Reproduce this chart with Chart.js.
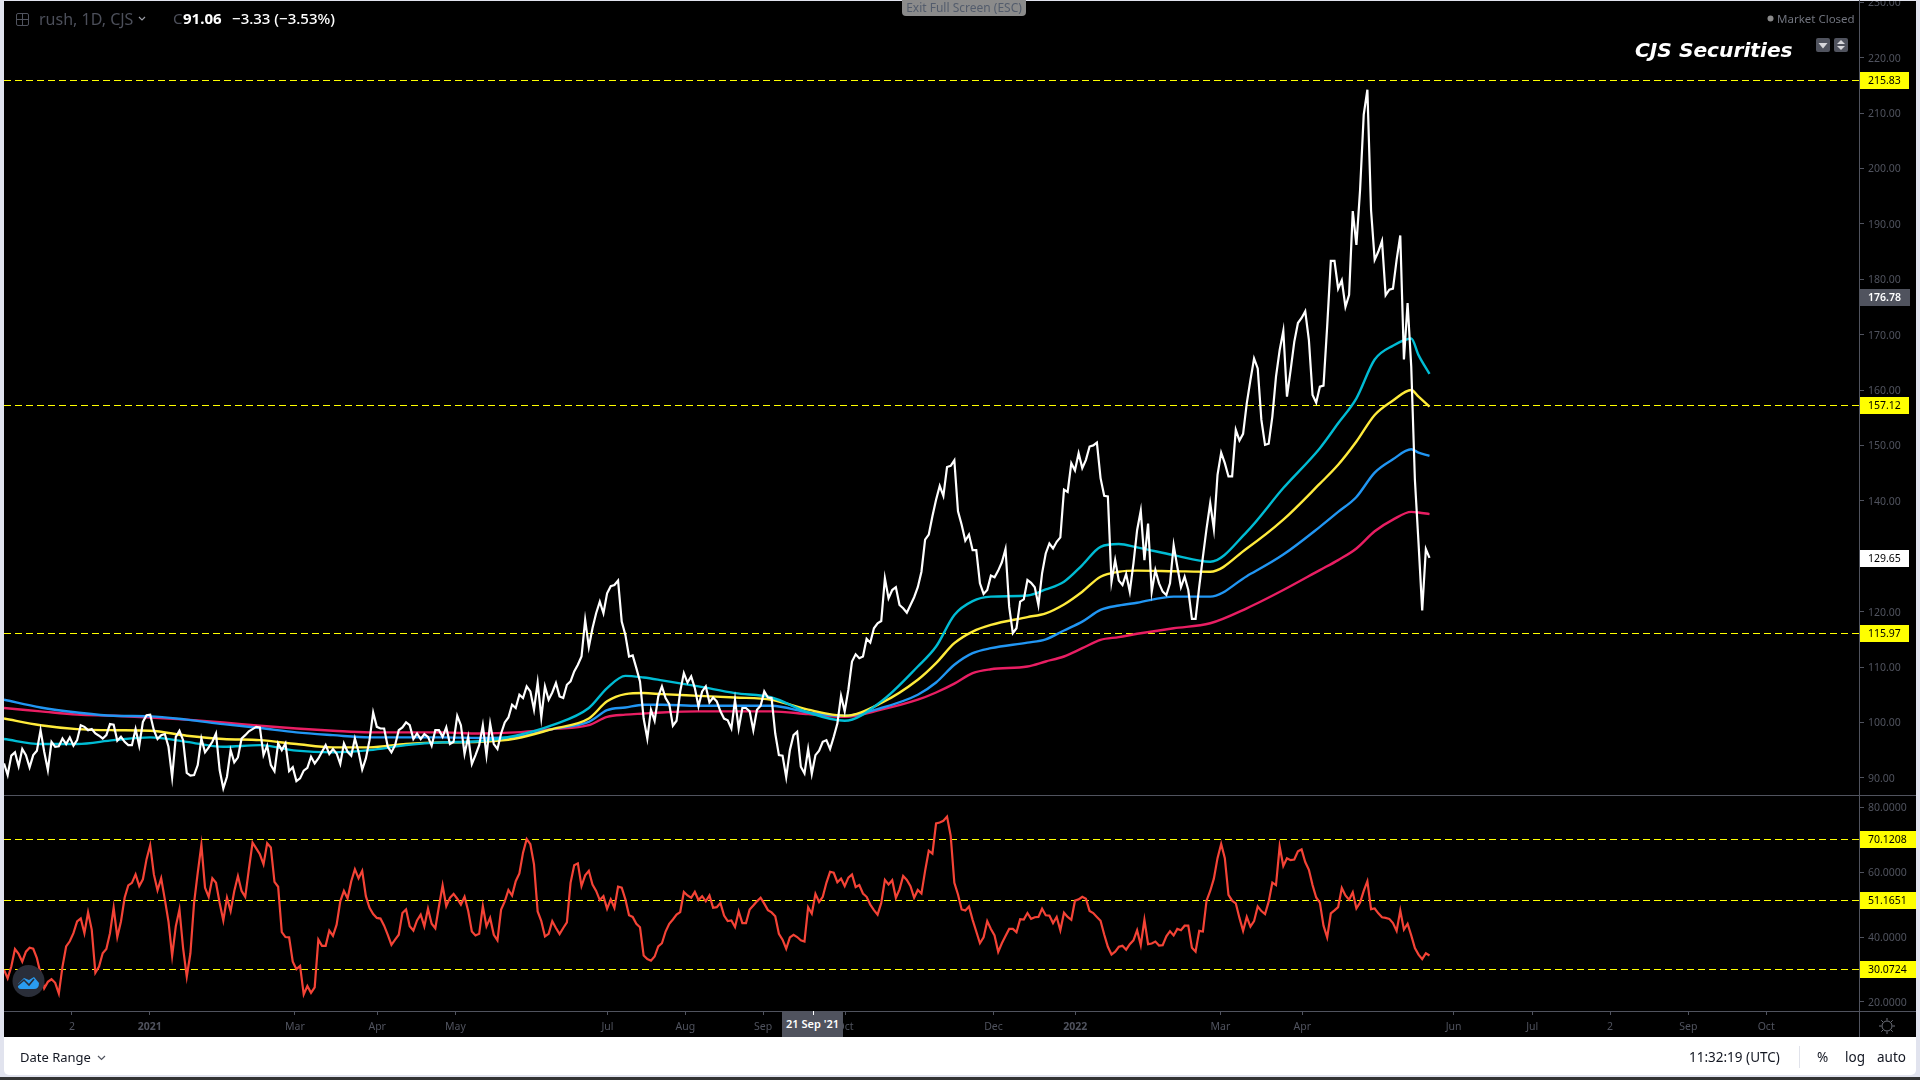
<!DOCTYPE html>
<html><head><meta charset="utf-8">
<script src="https://cdn.jsdelivr.net/npm/chart.js@4/dist/chart.umd.min.js"></script>
<style>
html,body{margin:0;padding:0;width:1920px;height:1080px;overflow:hidden;background:#e1e3ee;font-family:"Noto Sans",sans-serif}
.a{position:absolute;white-space:nowrap;line-height:1}
canvas{position:absolute;display:block}
</style></head><body>
<div class="a" style="left:4px;top:1px;width:1912px;height:1036px;background:#000"></div>
<div class="a" style="left:0;top:1077px;width:1920px;height:3px;background:#333"></div>
<div class="a" style="left:4px;top:1037px;width:1912px;height:38px;background:#fff;border-radius:0 0 5px 5px"></div>
<canvas id="price" width="1912" height="795" style="left:4px;top:0"></canvas>
<canvas id="rsi" width="1912" height="242" style="left:4px;top:795px"></canvas>
<div class="a" style="left:4px;top:0;width:1916px;height:1px;background:#e1e3ee"></div>
<div class="a" style="left:4px;top:795px;width:1912px;height:1px;background:#50535e"></div>
<div class="a" style="left:4px;top:1011px;width:1912px;height:1px;background:#50535e"></div>
<div class="a" style="left:1859px;top:0;width:1px;height:1037px;background:#50535e"></div>

<svg class="a" style="left:16px;top:13px" width="13" height="13" fill="none" stroke="#50535e"><rect x=".5" y=".5" width="12" height="12" rx="1.5"/><path d="M6.5 1V12M1 6.5H12"/></svg>
<div class="a" style="left:39px;top:11px;font-size:16px;color:#4c4f5a">rush, 1D, CJS</div>
<svg class="a" style="left:138px;top:16px" width="8" height="6" fill="none" stroke="#9a9ca5" stroke-width="1.2"><path d="M1 1L4 4L7 1"/></svg>
<div class="a" style="left:173px;top:11px;font-size:15px;color:#4c4f5a">C</div>
<div class="a" style="left:183px;top:11px;font-size:15px;font-weight:700;color:#fff">91.06</div>
<div class="a" style="left:232px;top:11px;font-size:15px;font-weight:500;color:#fff">−3.33 (−3.53%)</div>
<div class="a" style="left:902px;top:0;width:124px;height:16px;background:#8b8b8b;border-radius:0 0 4px 4px;color:#535c6c;font-size:12px;line-height:15px;text-align:center">Exit Full Screen (ESC)</div>
<svg class="a" style="left:1767px;top:15px" width="7" height="7"><circle cx="3.5" cy="3.5" r="3" fill="#8a8a8a"/></svg>
<div class="a" style="left:1777px;top:13px;font-size:11.5px;color:#70737d">Market Closed</div>
<div class="a" style="left:1635px;top:40px;font-size:20.2px;font-family:'DejaVu Sans';font-weight:700;font-style:italic;color:#fff">CJS Securities</div>
<svg class="a" style="left:1816px;top:38px" width="32" height="14"><rect width="14" height="14" rx="2" fill="#50535e"/><rect x="18" width="14" height="14" rx="2" fill="#50535e"/><path d="M2.5 5H11.5L7 10.5Z" fill="#d6d6da"/><path d="M25 2L29 6H21ZM25 12L29 8H21Z" fill="#d6d6da"/></svg>
<svg class="a" style="left:12px;top:965px" width="33" height="33"><circle cx="16.5" cy="16" r="16" fill="#2a2e39"/><path d="M6 19L12 13L17 15L22 12L27 18Q27 24 22 24H9Q5 24 6 19Z" fill="#2a9cf0"/><path d="M5 21L12 15L17 20L22 14" stroke="#2a2e39" stroke-width="1.6" fill="none"/></svg>
<div class="a" style="left:782px;top:1012px;width:61px;height:25px;background:#50535e;color:#fff;font-size:11px;font-weight:600;line-height:23px;text-align:center">21 Sep '21</div>
<div class="a" style="left:813px;top:1011px;width:1px;height:4px;background:#fff"></div>
<svg class="a" style="left:1879px;top:1018px" width="16" height="16" fill="none" stroke="#70737d"><circle cx="8" cy="8" r="5"/><path d="M8 0V2.5M8 13.5V16M0 8H2.5M13.5 8H16M2.3 2.3L4 4M12 12L13.7 13.7M13.7 2.3L12 4M4 12L2.3 13.7"/></svg>
<div class="a" style="left:20px;top:1051px;font-size:13px;color:#131722">Date Range</div>
<svg class="a" style="left:97px;top:1055px" width="9" height="6" fill="none" stroke="#50535e" stroke-width="1.2"><path d="M1 1L4.5 4.5L8 1"/></svg>
<div class="a" style="left:1689px;top:1051px;font-size:13.5px;color:#131722">11:32:19 (UTC)</div>
<div class="a" style="left:1799px;top:1046px;width:1px;height:22px;background:#e1e3eb"></div>
<div class="a" style="left:1817px;top:1051px;font-size:13.5px;color:#131722">%</div>
<div class="a" style="left:1845px;top:1051px;font-size:13.5px;color:#131722">log</div>
<div class="a" style="left:1877px;top:1051px;font-size:13.5px;color:#131722">auto</div>

<script>
const close_ = [92.6,90.5,94.0,94.6,92.1,95.2,94.1,91.9,94.1,94.9,98.6,94.7,91.4,96.5,95.6,95.7,97.1,96.1,97.3,95.8,96.8,99.5,99.2,98.6,98.8,98.0,97.6,97.1,97.7,99.7,99.6,96.7,97.4,96.5,95.9,95.9,98.8,95.8,100.1,101.3,101.4,98.6,97.0,97.7,97.9,95.6,90.1,97.4,98.5,96.8,90.9,90.4,90.5,92.3,97.1,94.6,95.5,96.5,98.0,91.4,88.1,90.2,95.0,92.8,93.7,97.1,97.7,98.4,98.8,99.2,99.1,94.1,95.8,92.3,91.2,96.2,95.0,96.2,91.2,91.9,89.4,89.9,91.3,91.8,93.8,92.6,93.5,94.7,95.9,94.3,95.2,94.4,92.5,96.2,94.7,94.0,97.1,94.7,91.5,93.5,96.8,101.8,99.2,98.9,98.9,95.6,94.6,95.9,98.6,99.1,100.0,99.5,97.0,98.0,97.0,97.9,97.4,95.8,98.6,98.6,97.4,99.1,96.1,96.5,101.2,99.5,94.3,97.4,92.5,94.1,95.9,
99.5,94.1,99.8,96.1,95.2,98.0,100.0,100.9,103.2,102.6,105.0,104.4,106.5,105.6,102.3,107.2,100.9,106.5,104.1,105.4,107.1,104.7,104.4,106.8,107.4,109.2,110.4,111.9,118.5,113.6,117.0,119.7,121.8,119.7,123.3,124.6,124.8,125.6,118.2,115.8,111.9,112.1,109.8,107.4,100.7,97.1,102.3,100.3,104.7,106.5,104.4,103.3,99.4,100.3,105.6,108.9,107.2,108.3,106.2,102.9,105.6,106.5,103.6,104.5,103.8,102.0,100.7,100.4,98.9,104.1,98.9,102.6,102.6,102.0,98.6,102.3,103.0,105.6,104.5,104.4,98.0,94.1,94.0,90.1,95.0,97.7,98.3,92.0,90.8,95.2,90.7,94.1,94.9,96.5,96.8,95.2,97.4,99.8,104.8,102.0,105.9,111.0,112.3,111.6,111.9,115.1,114.4,117.0,117.9,118.3,126.0,122.4,123.9,124.4,121.2,120.6,119.8,121.2,122.6,124.4,127.2,
133.0,133.9,137.2,140.2,142.7,140.9,146.1,146.3,147.3,138.1,135.7,132.8,133.9,131.1,131.1,125.1,123.2,123.9,126.5,126.2,127.4,128.9,131.3,120.9,116.1,117.0,121.8,122.2,125.7,125.2,124.4,121.2,126.9,130.5,132.3,131.4,132.6,133.4,142.0,141.6,146.8,145.5,148.6,145.9,147.4,149.8,150.0,150.5,
144.1,140.9,140.8,125.4,129.3,125.6,124.8,126.8,123.6,128.7,134.7,138.2,129.3,135.9,123.6,127.5,125.1,123.6,123.0,125.1,132.0,128.1,124.4,126.3,123.9,118.7,118.7,124.5,129.9,135.0,139.6,134.9,144.7,148.7,146.8,144.4,144.4,152.8,150.9,152.1,
157.6,161.8,165.7,163.9,154.6,150.1,150.3,155.2,162.4,167.2,170.7,158.8,163.6,168.7,172.1,173.0,174.2,169.0,159.1,157.7,160.6,160.8,171.5,
183.3,183.3,178.3,179.8,175.0,177.2,192.3,186.2,196.1,209.7,214.2,192.5,183.5,185.0,186.9,177.1,178.1,178.3,183.5,187.9,165.5,175.7,164.2,143.8,132.3,120.2,131.3,129.7];

const rsiValues = [29.9,27.3,30.9,36.3,34.8,32.4,35.5,36.7,36.4,33.5,28.8,24.2,26.2,27.0,25.9,22.6,30.9,37.1,38.7,41.2,44.8,45.7,41.2,47.6,42.3,29.0,30.9,35.0,36.3,41.2,49.0,40.0,44.8,52.1,55.9,56.7,59.3,55.7,57.8,64.0,68.3,59.3,54.4,58.1,51.6,44.8,34.2,43.3,48.5,36.6,27.8,35.0,50.5,59.8,68.4,55.2,52.4,58.1,56.7,50.5,45.1,52.1,48.0,54.2,58.8,54.2,52.4,60.9,69.1,67.3,65.5,62.4,68.9,67.6,57.0,55.5,41.5,40.0,39.9,32.4,30.1,31.1,22.3,24.9,22.8,24.5,39.2,37.3,37.3,42.0,40.4,43.8,51.0,54.2,51.9,57.2,60.9,58.1,60.4,52.6,49.0,47.1,45.9,45.7,43.5,40.7,37.6,39.2,40.7,47.4,48.5,43.3,42.0,45.1,46.9,43.3,48.7,44.1,42.7,49.5,55.9,49.5,52.1,53.3,51.8,50.0,52.4,48.0,41.7,40.5,41.0,
49.5,43.3,45.9,40.7,39.0,48.5,51.0,54.5,52.8,57.2,59.6,66.0,70.2,68.6,62.4,47.9,44.9,40.2,41.0,44.9,42.8,40.9,42.8,44.5,56.7,62.1,62.7,55.7,59.0,60.4,56.2,54.2,51.4,52.6,48.7,51.6,49.0,55.5,55.2,51.6,46.7,46.2,44.1,43.0,34.3,33.2,32.7,34.0,37.1,38.1,41.7,44.1,45.4,46.9,47.7,53.9,52.8,52.1,53.9,51.4,52.6,51.0,52.8,49.0,49.2,50.5,46.6,44.9,45.1,43.1,47.9,44.3,44.3,48.5,49.7,51.0,52.1,50.3,48.3,47.6,46.4,41.0,39.2,36.4,39.9,40.7,40.0,39.0,38.6,49.2,47.2,53.3,50.8,52.4,56.7,60.1,59.8,56.9,58.0,55.7,58.3,59.3,55.4,56.0,53.4,52.4,50.0,48.3,46.9,50.5,57.6,56.2,57.5,52.1,54.7,58.8,57.6,55.7,52.1,54.5,53.4,60.4,66.6,65.7,75.0,75.3,75.8,77.1,71.2,56.7,53.1,
48.5,48.2,49.4,45.3,41.7,38.1,39.9,44.9,42.5,40.5,35.4,38.1,40.3,42.5,42.5,41.5,45.5,45.4,47.4,45.6,46.1,46.2,48.7,46.7,46.6,44.3,46.2,42.1,47.5,46.2,45.3,51.2,51.6,52.4,51.8,48.0,47.4,46.2,45.0,40.8,37.0,34.6,35.5,37.0,37.3,36.1,37.8,39.0,42.1,37.5,45.3,37.8,38.0,38.6,37.4,37.5,40.2,41.8,40.5,42.5,42.1,43.5,43.5,36.7,35.5,41.9,41.7,51.2,54.2,58.0,64.3,68.7,64.3,53.0,51.2,50.4,45.9,41.9,46.2,43.2,44.9,49.4,48.0,47.1,50.9,56.8,56.0,67.9,61.9,64.3,63.7,63.9,66.4,67.0,63.1,60.7,56.0,52.2,50.6,43.5,39.9,47.3,48.2,49.2,55.1,52.8,51.5,53.8,48.8,50.6,54.2,57.2,48.6,48.8,47.3,46.1,45.9,45.6,44.3,41.9,48.2,42.3,44.1,40.5,36.6,34.6,33.2,35.0,34.3];

const maBars = [0,10,20,30,40,50,60,70,80,90,100,110,120,130,140,150,160,165,170,175,180,190,200,210,220,230,240,250,255,260,265,270,280,285,290,295,300,305,310,320,330,340,350,360,365,370,375,380,385,387,390];
const cyanMA = [97.0,96.1,96.1,96.8,97.3,96.5,95.6,95.9,94.9,94.6,95.0,95.9,96.4,96.6,97.6,99.5,102.6,106.2,108.4,108.1,107.6,106.5,105.3,104.5,101.8,100.3,103.8,110.1,113.7,119.4,121.9,122.7,122.9,124.0,125.4,128.4,131.7,132.2,131.6,130.2,129.0,134.4,142.3,149.5,154.0,158.5,165.5,168.0,169.3,166.3,162.9];
const yellowMA = [100.7,99.5,98.8,98.6,98.5,97.6,97.0,96.8,96.1,95.5,95.5,96.1,96.4,96.5,97.1,98.8,100.7,103.8,105.1,105.3,105.1,104.8,104.5,104.1,102.3,101.2,103.5,107.7,110.7,114.3,116.4,117.6,119.0,119.7,121.3,123.6,126.3,127.2,127.4,127.3,127.2,131.4,136.6,143.1,146.5,150.7,155.5,158.1,160.0,158.8,157.0];
const blueMA = [104.1,102.7,101.8,101.2,101.1,100.5,99.7,99.0,98.2,97.7,97.3,97.3,97.3,97.2,97.4,98.8,100.1,102.2,102.7,103.2,103.2,103.0,103.0,103.0,101.8,101.2,102.6,105.0,107.2,110.4,112.5,113.4,114.4,115.0,116.6,118.2,120.3,121.1,121.6,122.7,122.7,126.4,130.3,135.3,138.0,140.7,145.1,147.5,149.3,148.7,148.1];
const pinkMA = [102.6,102.0,101.4,101.2,100.9,100.5,100.0,99.4,98.9,98.5,98.2,98.2,98.2,98.0,98.2,98.8,99.5,101.0,101.4,101.6,101.8,102.0,102.0,102.0,101.5,101.0,102.3,104.1,105.4,107.0,108.9,109.6,110.1,111.0,111.9,113.4,114.9,115.4,116.0,117.0,117.9,120.6,123.9,127.5,129.3,131.4,134.5,136.6,138.0,137.9,137.6];

const priceLevels = [215.83,157.12,115.97];
const rsiLevels = [70.1208,51.1651,30.0724];
const priceTicks = [90,100,110,120,130,140,150,160,170,180,190,200,210,220,230];
const rsiTicks = [20,40,60,80];
const dateTickBars = [18.6,39.9,79.6,102.1,123.5,165.1,186.4,207.7,230.1,270.7,293.1,332.8,355.2,396.6,418.1,439.4,460.8,482.1];
const dateTickLabels = ['2','2021','Mar','Apr','May','Jul','Aug','Sep','Oct','Dec','2022','Mar','Apr','Jun','Jul','2','Sep','Oct'];
const crosshairPrice = 176.78, lastPrice = 129.65;

const BAR_MAX = 507.5, AXIS = '#50535e', DIM = '#50535e', FONT = '"Noto Sans", sans-serif';
const series = (xs, ys) => ys.map((y, i) => ({x: xs ? xs[i] : i, y}));
const line = (data, color, order, width, smooth) => ({data, borderColor: color, borderWidth: width, pointRadius: 0, order, fill: false,
  tension: 0, cubicInterpolationMode: smooth ? 'monotone' : 'default'});
const fit = w => s => { s.width = w; s.paddingTop = s.paddingBottom = 0; };

function drawLevels(c, values) {
  const ctx = c.ctx, a = c.chartArea, s = c.scales.y;
  ctx.save();
  ctx.strokeStyle = '#ffff00'; ctx.lineWidth = 1; ctx.setLineDash([7, 4]);
  values.forEach(v => {
    const y = Math.floor(s.getPixelForValue(v)) + 0.5;
    ctx.beginPath(); ctx.moveTo(a.left, y); ctx.lineTo(a.right, y); ctx.stroke();
  });
  ctx.restore();
}
function tag(ctx, scale, value, text, right, bg, fg, bold) {
  const y = Math.floor(scale.getPixelForValue(value)), x = scale.left;
  ctx.save();
  ctx.fillStyle = bg; ctx.fillRect(x, y - 8, right - x, 17);
  ctx.fillStyle = fg; ctx.font = (bold ? '600 ' : '') + '10.5px ' + FONT;
  ctx.textAlign = 'left'; ctx.textBaseline = 'middle';
  ctx.fillText(text, x + 9, y + 1);
  ctx.restore();
}
function nudgeLabels(c) {
  c.scales.y.getLabelItems(c.chartArea).forEach(i => { i.options.translation[1] += 1; });
}

new Chart(document.getElementById('price'), {
  type: 'line',
  data: {datasets: [
    line(series(null, close_), '#ffffff', 1, 2.2),
    line(series(maBars, cyanMA), '#00bcd4', 2, 2.4, true),
    line(series(maBars, yellowMA), '#ffeb3b', 3, 2.4, true),
    line(series(maBars, blueMA), '#2196f3', 4, 2.4, true),
    line(series(maBars, pinkMA), '#e91e63', 5, 2.4, true)
  ]},
  options: {
    responsive: false, animation: false, events: [], layout: {padding: 0},
    plugins: {legend: {display: false}, tooltip: {enabled: false}},
    scales: {
      x: {type: 'linear', min: 0, max: BAR_MAX, display: false},
      y: {type: 'linear', position: 'right', min: 86.9, max: 230.4,
        afterBuildTicks: s => { s.ticks = priceTicks.map(value => ({value})); },
        afterFit: fit(57),
        border: {display: false},
        grid: {drawOnChartArea: false, drawTicks: true, tickLength: 5, color: AXIS},
        ticks: {color: DIM, padding: 4, font: {family: FONT, size: 10.5}, callback: v => v.toFixed(2)}}
    }
  },
  plugins: [{id: 'tags',
    beforeDraw: nudgeLabels,
    beforeDatasetsDraw(c) { drawLevels(c, priceLevels); },
    afterDraw(c) {
      const s = c.scales.y, r = s.left + 50;
      priceLevels.forEach(v => tag(c.ctx, s, v, v.toFixed(2), r, '#ffff00', '#000'));
      tag(c.ctx, s, crosshairPrice, crosshairPrice.toFixed(2), r + 1, '#50535e', '#fff', true);
      tag(c.ctx, s, lastPrice, lastPrice.toFixed(2), r, '#ffffff', '#000');
    }}]
});

new Chart(document.getElementById('rsi'), {
  type: 'line',
  data: {datasets: [line(series(null, rsiValues), '#f44336', 1, 2.2)]},
  options: {
    responsive: false, animation: false, events: [], layout: {padding: 0},
    plugins: {legend: {display: false}, tooltip: {enabled: false}},
    scales: {
      x: {type: 'linear', min: 0, max: BAR_MAX, position: 'bottom',
        afterBuildTicks: s => { s.ticks = dateTickBars.map(value => ({value})); },
        afterFit: s => { s.height = 26; s.paddingLeft = s.paddingRight = 0; },
        border: {display: false},
        grid: {drawOnChartArea: false, drawTicks: true, tickLength: 4, color: AXIS},
        ticks: {color: DIM, padding: 6, autoSkip: false, maxRotation: 0,
          font: c => ({family: FONT, size: 10.5, weight: /^20/.test(dateTickLabels[c.index] || '') ? '700' : '400'}),
          callback: v => dateTickLabels[dateTickBars.indexOf(v)]}},
      y: {type: 'linear', position: 'right', min: 17.22, max: 83.76,
        afterBuildTicks: s => { s.ticks = rsiTicks.map(value => ({value})); },
        afterFit: fit(57),
        border: {display: false},
        grid: {drawOnChartArea: false, drawTicks: true, tickLength: 5, color: AXIS},
        ticks: {color: DIM, padding: 4, font: {family: FONT, size: 10.5}, callback: v => v.toFixed(4)}}
    }
  },
  plugins: [{id: 'tags',
    beforeDraw: nudgeLabels,
    beforeDatasetsDraw(c) { drawLevels(c, rsiLevels); },
    afterDraw(c) {
      const s = c.scales.y;
      rsiLevels.forEach(v => tag(c.ctx, s, v, v.toFixed(4), s.left + 57, '#ffff00', '#000'));
    }}]
});
</script>
</body></html>
